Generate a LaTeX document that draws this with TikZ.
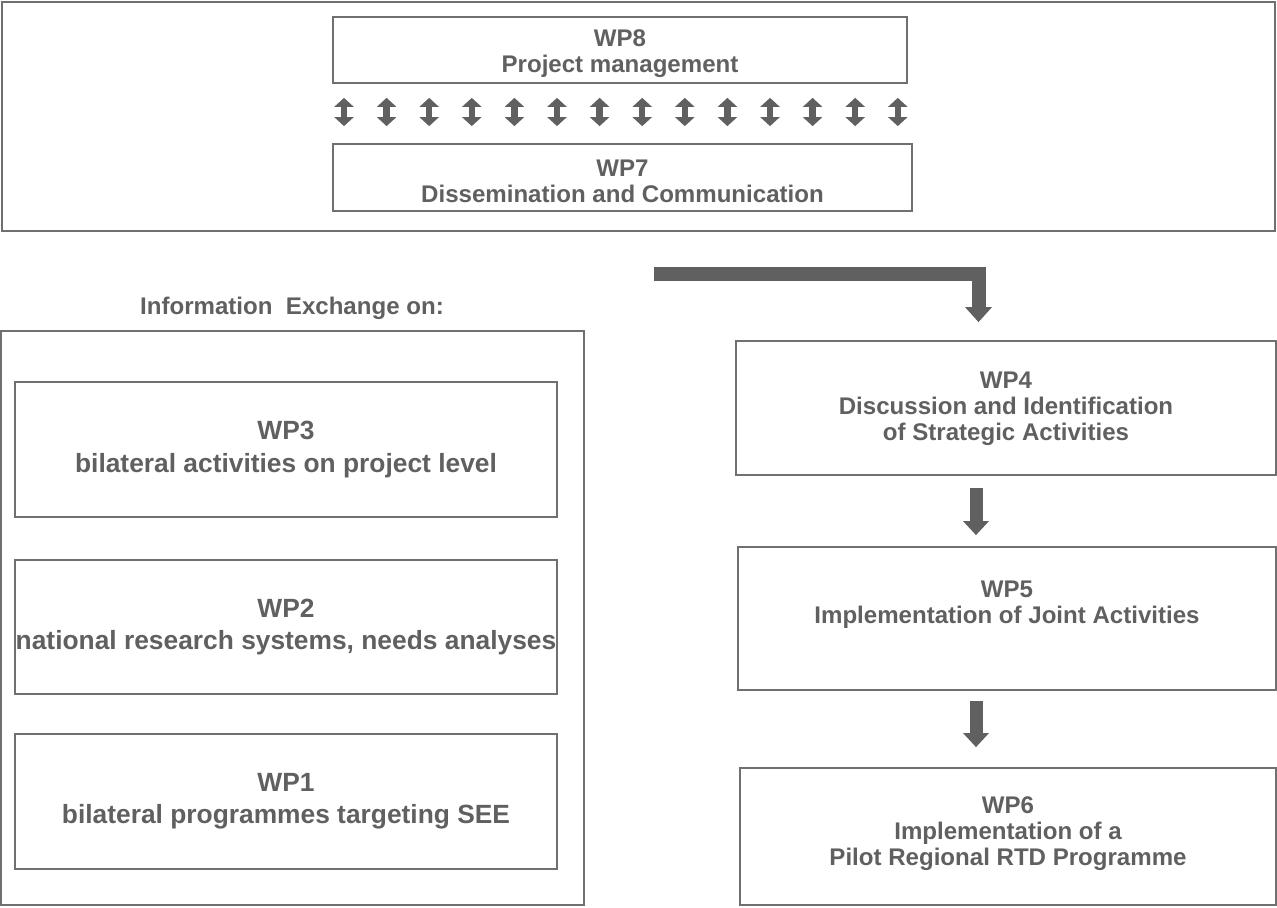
\documentclass[tikz,border=0pt]{standalone}
\usepackage{fontspec}
\setmainfont{Liberation Sans}
\usetikzlibrary{arrows.meta}
\definecolor{wpgray}{RGB}{96,96,96}
\definecolor{linegray}{RGB}{112,112,112}
\newcommand{\wpfont}{\fontsize{13.7}{14.8}\selectfont\bfseries}
\newcommand{\wpbigfont}{\fontsize{15}{18.4}\selectfont\bfseries}
\tikzset{
    frame/.style={draw=linegray,line width=1pt},
    wpbox/.style={draw=linegray,line width=1pt,rectangle,inner sep=0pt},
    wptext/.style={align=center,text=wpgray,font=\wpfont,inner sep=0pt},
    updown/.style={draw=wpgray,line width=0.13cm,
        {Triangle[width=0.38cm,length=0.18cm]}-{Triangle[width=0.38cm,length=0.18cm]},
        shorten <=0.28cm,shorten >=0.34cm},
    fatarrow/.style={draw=wpgray,line width=0.26cm,-{Triangle[width=0.5cm,length=0.28cm]}},
}
\begin{document}
\begin{tikzpicture}[x=0.02cm,y=-0.02cm]
    \useasboundingbox (0,0) rectangle (1277,908);
    \draw[frame] (2,2) rectangle (1275,231);
    \draw[frame] (1,331) rectangle (584,905);

    \node[wpbox,minimum width=11.48cm,minimum height=1.32cm] (wp8) at (620,50) {};
    \node[wpbox,minimum width=11.58cm,minimum height=1.34cm] (wp7) at (622.5,177.5) {};
    \node[wptext] at (620,54) {WP8\\Project management};
    \node[wptext] at (622.5,181) {WP7\\Dissemination and Communication};

    \foreach \i in {0,...,13} {
        \coordinate (a\i) at ({344+42.6*\i},0);
        \draw[updown] (wp8.south -| a\i) -- (wp7.north -| a\i);
    }

    \node[wptext] (info) at (292,308) {Information\ \ Exchange on:};

    \node[wpbox,minimum width=10.84cm,minimum height=2.7cm] (wp3) at (286,449.5) {};
    \node[wpbox,minimum width=10.84cm,minimum height=2.68cm] (wp2) at (286,627) {};
    \node[wpbox,minimum width=10.84cm,minimum height=2.7cm] (wp1) at (286,801.5) {};
    \node[wptext,font=\wpbigfont] at (wp3) {WP3\\bilateral activities on project level};
    \node[wptext,font=\wpbigfont] at (wp2) {WP2\\national research systems, needs analyses};
    \node[wptext,font=\wpbigfont] at (wp1) {WP1\\bilateral programmes targeting SEE};

    \node[wpbox,minimum width=10.8cm,minimum height=2.68cm] (wp4) at (1006,408) {};
    \node[wpbox,minimum width=10.76cm,minimum height=2.86cm] (wp5) at (1007,618.5) {};
    \node[wpbox,minimum width=10.72cm,minimum height=2.74cm] (wp6) at (1008,836.5) {};
    \node[wptext] at (1006,409) {WP4\\Discussion and Identification\\of Strategic Activities};
    \node[wptext] at (1007,605) {WP5\\Implementation of Joint Activities};
    \node[wptext] at (1008,834) {WP6\\Implementation of a\\Pilot Regional RTD Programme};

    \coordinate (lstart) at (654,274.5);
    \coordinate (lshaft) at (978.5,0);
    \coordinate (dshaft) at (976,0);
    \draw[fatarrow,line width=0.28cm,-{Triangle[width=0.52cm,length=0.3cm]},shorten >=0.36cm] (lstart) -| (wp4.north -| lshaft);
    \draw[fatarrow,shorten <=0.24cm,shorten >=0.22cm] (wp4.south -| dshaft) -- (wp5.north -| dshaft);
    \draw[fatarrow,shorten <=0.2cm,shorten >=0.4cm] (wp5.south -| dshaft) -- (wp6.north -| dshaft);
\end{tikzpicture}
\end{document}
